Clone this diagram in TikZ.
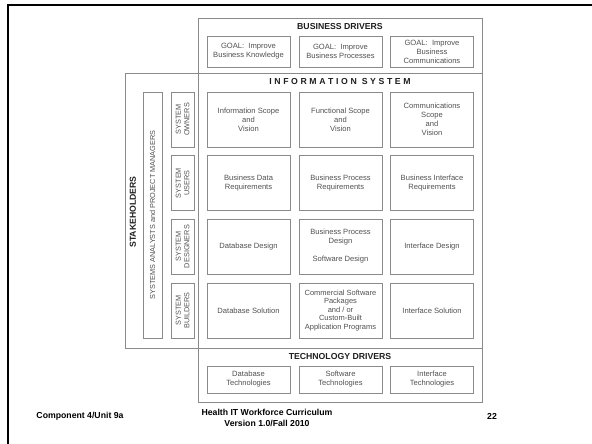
\documentclass[tikz,border=0pt]{standalone}
\usepackage{fontspec}
\setmainfont{Liberation Sans}
\definecolor{linegray}{HTML}{8A8A8A}
\definecolor{textgray}{HTML}{505050}
\definecolor{titlegray}{HTML}{1E1E1E}
\newcommand\lsp{\kern2.6pt}
\begin{document}
\begin{tikzpicture}[x=1pt,y=-1pt,
  frame/.style={draw=linegray,line width=0.8pt,inner sep=0pt},
  cell/.style={draw=linegray,line width=0.8pt,minimum width=83pt,minimum height=55pt,inner sep=0pt,align=center,
    font=\fontsize{7.6}{9}\selectfont,text=textgray},
  goal/.style={cell,minimum height=31pt},
  tech/.style={cell,minimum height=27pt},
  role/.style={draw=linegray,line width=0.8pt,minimum width=55pt,minimum height=23pt,inner sep=0pt,align=center,
    rotate=90,font=\fontsize{7.3}{8.5}\selectfont,text=textgray},
  title/.style={font=\fontsize{8.7}{10}\selectfont\bfseries,text=titlegray,inner sep=0pt},
  foot/.style={font=\fontsize{8.7}{11}\selectfont\bfseries,text=black,align=center,inner sep=0pt}]
\useasboundingbox (0,0) rectangle (592,444);
% slide frame
\draw[line width=2.6pt,black] (8,444) -- (8,5) -- (592,5);
% containers
\node[frame,minimum width=284pt,minimum height=55pt] (bd) at (340,45.5) {};
\node[frame,minimum width=284pt,minimum height=275pt] (is) at (340,210.5) {};
\node[frame,minimum width=284pt,minimum height=54pt] (td) at (340,375) {};
\node[frame,minimum width=73pt,minimum height=275pt] (sh) at (161.5,210.5) {};
% titles
\node[title] (bdt) at (340,27) {BUSINESS DRIVERS};
\node[title] (ist) at (340,82) {I\lsp N\lsp F\lsp O\lsp R\lsp M\lsp A\lsp T\lsp I\lsp O\lsp N\ \lsp S\lsp Y\lsp S\lsp T\lsp E\lsp M};
\node[title] (tdt) at (340,356.5) {TECHNOLOGY DRIVERS};
\node[title,rotate=90] (sht) at (133,212) {STAKEHOLDERS};
% business drivers
\node[goal] (g1) at (248.5,51.5) {GOAL:\ \ Improve\\Business Knowledge};
\node[goal] (g2) at (340.5,51.5) {GOAL:\ \ Improve\\Business Processes};
\node[goal] (g3) at (432,51.5) {GOAL:\ \ Improve\\Business\\Communications};
% grid
\node[cell] (c11) at (248.5,119.5) {Information Scope\\and\\Vision};
\node[cell] (c12) at (340.5,119.5) {Functional Scope\\and\\Vision};
\node[cell] (c13) at (432,119.5) {Communications\\Scope\\and\\Vision};
\node[cell] (c21) at (248.5,183) {Business Data\\Requirements};
\node[cell] (c22) at (340.5,183) {Business Process\\Requirements};
\node[cell] (c23) at (432,183) {Business Interface\\Requirements};
\node[cell] (c31) at (248.5,246.5) {Database Design};
\node[cell] (c32) at (340.5,246.5) {Business Process\\Design\\[9pt]Software Design};
\node[cell] (c33) at (432,246.5) {Interface Design};
\node[cell] (c41) at (248.5,310.5) {Database Solution};
\node[cell,font=\fontsize{7.5}{8.5}\selectfont] (c42) at (340.5,310.5) {Commercial Software\\Packages\\and / or\\Custom-Built\\Application Programs};
\node[cell] (c43) at (432,310.5) {Interface Solution};
% roles
\node[role] (r1) at (182.5,119.5) {SYSTEM\\OWNERS};
\node[role] (r2) at (182.5,183) {SYSTEM\\USERS};
\node[role] (r3) at (182.5,246.5) {SYSTEM\\DESIGNERS};
\node[role] (r4) at (182.5,310.5) {SYSTEM\\BUILDERS};
\node[role,minimum width=246pt,minimum height=19pt] (an) at (152.5,215) {SYSTEMS ANALYSTS and PROJECT MANAGERS};
% technology drivers
\node[tech] (t1) at (248.5,379.5) {Database\\Technologies};
\node[tech] (t2) at (340.5,379.5) {Software\\Technologies};
\node[tech] (t3) at (432,379.5) {Interface\\Technologies};
% footer
\node[foot] (f1) at (80,416) {Component 4/Unit 9a};
\node[foot] (f2) at (267,417.5) {Health IT Workforce Curriculum\\Version 1.0/Fall 2010};
\node[foot] (f3) at (492,416) {22};
\end{tikzpicture}
\end{document}
